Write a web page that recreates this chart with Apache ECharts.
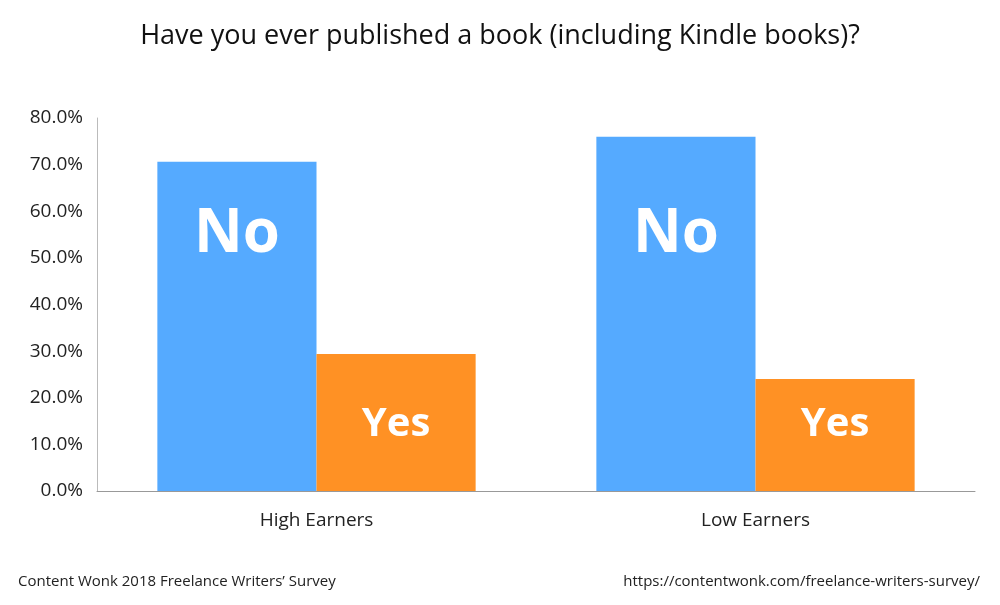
<!DOCTYPE html>
<html><head><meta charset="utf-8">
<script src="https://cdn.jsdelivr.net/npm/echarts@6/dist/echarts.min.js"></script>
<style>html,body{margin:0;padding:0;background:#fff}#c{width:1000px;height:605px}</style>
</head><body><div id="c"></div>
<script>
const categories = ['High Earners', 'Low Earners'];
const noValues = [70.6, 76.0];
const yesValues = [29.4, 24.0];
const yTicks = [0, 10, 20, 30, 40, 50, 60, 70, 80];
const F = '"Open Sans", sans-serif';
const chart = echarts.init(document.getElementById('c'));
chart.setOption({
  animation: false,
  title: {text: 'Have you ever published a book (including Kindle books)?', left: 'center', top: 18,
    textStyle: {fontFamily: F, fontSize: 27, fontWeight: 'normal', color: '#111'}},
  graphic: [
    {type: 'text', left: 18, top: 574, style: {text: 'Content Wonk 2018 Freelance Writers\u2019 Survey', font: '15px "Open Sans", sans-serif', fill: '#222'}},
    {type: 'text', right: 20, top: 574, style: {text: 'https://contentwonk.com/freelance-writers-survey/', font: '15px "Open Sans", sans-serif', fill: '#222'}}
  ],
  grid: {left: 97, right: 25, top: 118, bottom: 114},
  xAxis: {type: 'category', data: categories,
    axisLine: {lineStyle: {color: '#999'}}, axisTick: {show: false},
    axisLabel: {fontFamily: F, fontSize: 19, color: '#222', margin: 20}},
  yAxis: {type: 'value', min: yTicks[0], max: yTicks[yTicks.length-1], interval: 10,
    axisLine: {show: true, lineStyle: {color: '#bbb'}}, splitLine: {show: false},
    axisLabel: {fontFamily: F, fontSize: 19, color: '#222', margin: 14, formatter: v => v.toFixed(1) + '%'}},
  series: [
    {type: 'bar', name: 'No', data: noValues, barGap: 0, barCategoryGap: '27.5%',
      itemStyle: {color: '#55aaff'},
      label: {show: true, position: 'insideBottom', distance: 226, formatter: 'No',
        fontFamily: F, fontSize: 60, fontWeight: 'bold', color: '#fff'}},
    {type: 'bar', name: 'Yes', data: yesValues,
      itemStyle: {color: '#ff9124'},
      label: {show: true, position: 'insideBottom', distance: 46, formatter: 'Yes',
        fontFamily: F, fontSize: 40, fontWeight: 'bold', color: '#fff'}}
  ]
});
</script></body></html>
